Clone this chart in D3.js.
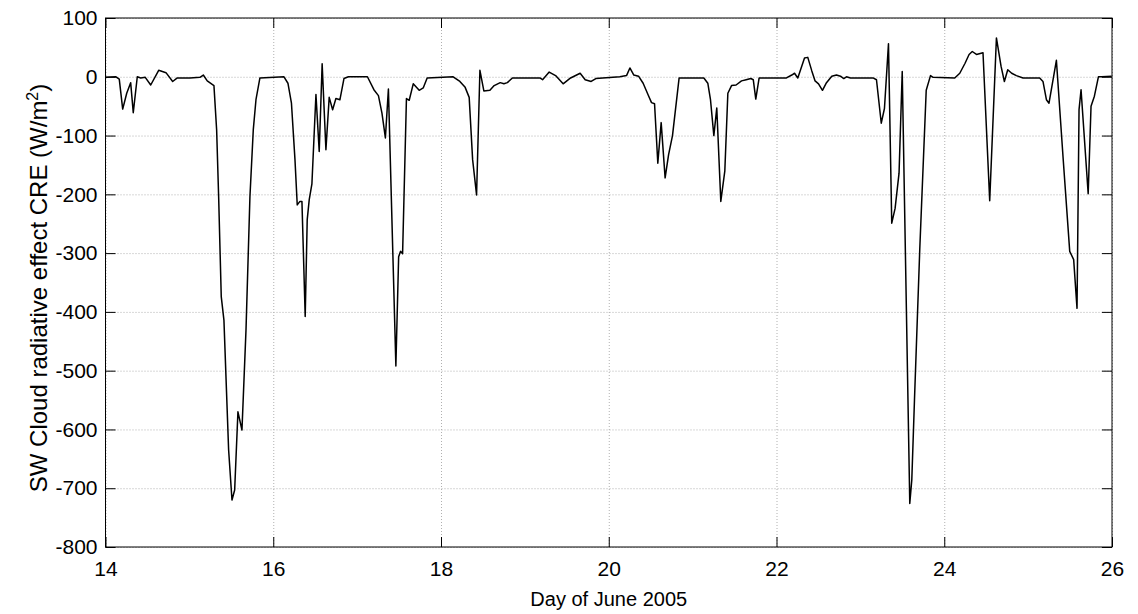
<!DOCTYPE html>
<html>
<head>
<meta charset="utf-8">
<script src="https://cdn.jsdelivr.net/npm/d3@7"></script>
<style>
  body { margin: 0; background: #fff; }
  svg { font-family: "Liberation Sans", Arial, Helvetica, sans-serif; }
  .grid line { stroke: #b0b0b0; stroke-dasharray: 1,2; }
  .grid path { display: none; }
  .axis path { display: none; }
  .axis line { stroke: #000; }
  .axis text { font-size: 21px; fill: #000; }
</style>
</head>
<body>
<div id="chart"></div>
<script>
// Setting up sizes
const width = 1138;
const height = 614;

const margin = {
  top: 18,
  right: 26,
  bottom: 67,
  left: 105.5
};

// Data: day of June 2005, SW CRE in W/m2
const days = [
  14.006, 14.125, 14.164, 14.205, 14.253, 14.300, 14.331, 14.379, 14.420, 14.474,
  14.539, 14.634, 14.721, 14.801, 14.856, 15.007, 15.126, 15.166, 15.213, 15.293,
  15.325, 15.349, 15.380, 15.412, 15.468, 15.508, 15.540, 15.579, 15.627, 15.675,
  15.722, 15.762, 15.794, 15.841, 16.128, 16.175, 16.217, 16.259, 16.286, 16.318,
  16.342, 16.381, 16.405, 16.429, 16.461, 16.509, 16.548, 16.583, 16.628, 16.667,
  16.708, 16.747, 16.795, 16.843, 16.896, 17.123, 17.200, 17.254, 17.296, 17.337,
  17.373, 17.462, 17.495, 17.518, 17.542, 17.588, 17.621, 17.669, 17.740, 17.788,
  17.835, 18.145, 18.225, 18.288, 18.336, 18.377, 18.424, 18.464, 18.511, 18.583,
  18.634, 18.706, 18.750, 18.791, 18.851, 19.179, 19.211, 19.290, 19.366, 19.456,
  19.545, 19.659, 19.719, 19.790, 19.846, 20.132, 20.212, 20.252, 20.299, 20.355,
  20.410, 20.470, 20.510, 20.546, 20.585, 20.625, 20.672, 20.713, 20.760, 20.839,
  21.134, 21.181, 21.213, 21.253, 21.288, 21.336, 21.384, 21.420, 21.464, 21.518,
  21.583, 21.638, 21.694, 21.723, 21.753, 21.793, 22.119, 22.182, 22.215, 22.254,
  22.334, 22.373, 22.421, 22.460, 22.501, 22.548, 22.596, 22.659, 22.715, 22.763,
  22.802, 22.834, 22.882, 23.151, 23.192, 23.249, 23.287, 23.335, 23.374, 23.414,
  23.461, 23.499, 23.589, 23.613, 23.645, 23.708, 23.785, 23.836, 23.867, 24.125,
  24.185, 24.248, 24.296, 24.334, 24.384, 24.462, 24.542, 24.622, 24.677, 24.717,
  24.757, 24.804, 24.860, 24.939, 25.138, 25.177, 25.218, 25.249, 25.337, 25.416,
  25.496, 25.543, 25.583, 25.607, 25.631, 25.716, 25.750, 25.790, 25.838, 25.877,
  25.996
];

const cre = [
  -1, 0, -4, -55, -28, -10, -61, 0, -2, -1,
  -14, 11, 7, -8, -2, -2, -1, 3, -7, -15,
  -90, -204, -374, -414, -635, -720, -703, -570, -601, -431,
  -204, -90, -39, -2, 0, -11, -45, -141, -218, -212,
  -212, -408, -243, -209, -182, -30, -127, 22, -124, -35,
  -56, -37, -39, -3, 0, 0, -22, -32, -62, -104,
  -21, -492, -306, -297, -301, -37, -40, -12, -23, -19,
  -2, 0, -8, -18, -35, -141, -201, 11, -24, -23,
  -15, -10, -12, -10, -2, -2, -5, 8, 2, -12,
  -2, 6, -5, -8, -3, 0, 2, 15, 3, 1,
  -11, -31, -44, -46, -147, -78, -172, -133, -100, -2,
  -2, -11, -39, -100, -53, -212, -160, -28, -15, -14,
  -7, -5, -3, -5, -38, -2, -2, 3, 6, -2,
  32, 33, 10, -7, -12, -23, -10, 1, 3, 1,
  -3, 0, -2, -2, -5, -79, -54, 56, -249, -224,
  -164, 9, -726, -686, -550, -294, -23, 2, -1, -2,
  6, 23, 38, 43, 38, 41, -211, 66, 18, -8,
  12, 6, 2, -2, -2, -8, -39, -45, 28, -136,
  -297, -311, -394, -56, -22, -199, -50, -33, 0, 0,
  1
];

const xTicks = [14, 16, 18, 20, 22, 24, 26];
const yTicks = [100, 0, -100, -200, -300, -400, -500, -600, -700, -800];

const data = days.map((d, i) => ({ day: d, value: cre[i] }));

const svg = d3.select("#chart")
  .append("svg")
  .attr("width", width)
  .attr("height", height);

// Scales
const x = d3.scaleLinear()
  .domain([14, 26])
  .range([margin.left, width - margin.right]);

const y = d3.scaleLinear()
  .domain([-800, 100])
  .range([height - margin.bottom, margin.top]);

const plotW = width - margin.left - margin.right;
const plotH = height - margin.top - margin.bottom;

// plain hyphen for negatives, like the original
const fmt = d => String(d);

// Grid (dotted)
svg.append("g")
  .attr("class", "grid")
  .attr("transform", `translate(0,${height - margin.bottom})`)
  .call(d3.axisBottom(x).tickValues(xTicks).tickSize(-plotH).tickFormat(""));

svg.append("g")
  .attr("class", "grid")
  .attr("transform", `translate(${margin.left},0)`)
  .call(d3.axisLeft(y).tickValues(yTicks).tickSize(-plotW).tickFormat(""));

// Line
const line = d3.line()
  .x(d => x(d.day))
  .y(d => y(d.value));

svg.append("path")
  .datum(data)
  .attr("fill", "none")
  .attr("stroke", "#000")
  .attr("stroke-width", 1.5)
  .attr("stroke-linejoin", "round")
  .attr("d", line);

// Axes, ticks pointing inward on all four sides
svg.append("g")
  .attr("class", "axis")
  .attr("transform", `translate(0,${height - margin.bottom})`)
  .call(d3.axisBottom(x).tickValues(xTicks).tickSize(-10).tickPadding(14).tickFormat(fmt));

svg.append("g")
  .attr("class", "axis")
  .attr("transform", `translate(0,${margin.top})`)
  .call(d3.axisTop(x).tickValues(xTicks).tickSize(-10).tickFormat(""));

svg.append("g")
  .attr("class", "axis")
  .attr("transform", `translate(${margin.left},0)`)
  .call(d3.axisLeft(y).tickValues(yTicks).tickSize(-10).tickPadding(8).tickFormat(fmt));

svg.append("g")
  .attr("class", "axis")
  .attr("transform", `translate(${width - margin.right},0)`)
  .call(d3.axisRight(y).tickValues(yTicks).tickSize(-10).tickFormat(""));

// Frame
svg.append("rect")
  .attr("x", margin.left)
  .attr("y", margin.top)
  .attr("width", plotW)
  .attr("height", plotH)
  .attr("fill", "none")
  .attr("stroke", "#000")
  .attr("stroke-width", 1);

// Axis titles
svg.append("text")
  .attr("x", margin.left + plotW / 2)
  .attr("y", 606)
  .attr("text-anchor", "middle")
  .attr("font-size", 20)
  .text("Day of June 2005");

const yt = svg.append("text")
  .attr("transform", `translate(47,288) rotate(-90)`)
  .attr("text-anchor", "middle")
  .attr("font-size", 24);
yt.append("tspan").text("SW Cloud radiative effect CRE (W/m");
yt.append("tspan").attr("dy", -9).attr("font-size", 16).text("2");
yt.append("tspan").attr("dy", 9).text(")");
</script>
</body>
</html>
